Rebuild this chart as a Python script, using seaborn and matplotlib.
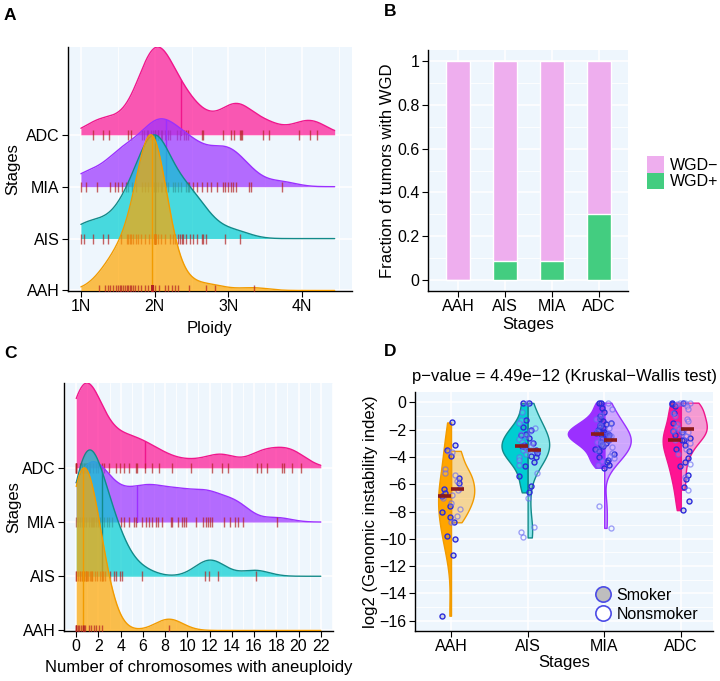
import numpy as np
import pandas as pd
import matplotlib
matplotlib.use("Agg")
import matplotlib.pyplot as plt
from matplotlib.ticker import MultipleLocator
from matplotlib.lines import Line2D
from matplotlib.patches import Patch
import seaborn as sns

stages = ["AAH", "AIS", "MIA", "ADC"]

# ---- A: ploidy per tumour (rug positions; stacked diploid ticks read as repeats)
ploidy_aah = [1.25, 1.32, 1.37, 1.40, 1.44, 1.48, 1.50, 1.53, 1.55, 1.57, 1.60,
              1.62, 1.64, 1.66, 1.68, 1.71, 1.73, 1.78, 1.82, 1.87, 1.91, 2.01,
              2.06, 2.14, 2.18, 2.23, 2.27, 2.32, 2.46, 2.69, 2.82, 3.34] + [1.96] * 48
ploidy_ais = [1.00, 1.04, 1.16, 1.30, 1.37, 1.55, 1.62, 1.64, 1.66, 1.68, 1.71,
              1.75, 1.78, 1.82, 1.87, 1.92, 1.96, 2.01, 2.05, 2.09, 2.14, 2.21,
              2.25, 2.28, 2.32, 2.34, 2.37, 2.39, 2.43, 2.48, 2.52, 2.57, 2.64,
              2.66, 2.70, 2.96, 3.15] + [2.0] * 12
ploidy_mia = [1.00, 1.07, 1.22, 1.39, 1.46, 1.50, 1.56, 1.61, 1.64, 1.69, 1.75,
              1.83, 1.87, 1.91, 1.96, 1.99, 2.0, 2.02, 2.05, 2.09, 2.1, 2.14,
              2.15, 2.18, 2.25, 2.28, 2.32, 2.36, 2.42, 2.45, 2.47, 2.52, 2.57,
              2.64, 2.71, 2.77, 2.84, 2.93, 2.95, 3.0, 3.04, 3.06, 3.10, 3.28,
              3.30, 3.72]
ploidy_adc = [1.16, 1.30, 1.38, 1.64, 1.68, 1.83, 1.86, 1.89, 1.91, 1.95, 1.98,
              2.00, 2.05, 2.09, 2.14, 2.18, 2.21, 2.40, 2.42, 2.64, 2.66, 2.93,
              3.04, 3.07, 3.15, 3.17, 3.19, 3.47, 3.55, 3.96, 4.11, 4.20,
              2.0, 2.0, 2.05, 2.05, 2.1, 2.3, 2.35, 2.45]
ploidy_range = (1.0, 4.44)
ploidy_median = [1.96, 2.0, 2.16, 2.36]   # quantile lines

# ---- B: fraction of tumours with WGD
wgd_pos = [0.0, 0.087, 0.087, 0.30]
wgd_neg = [1.0, 0.913, 0.913, 0.70]

# ---- C: number of chromosomes with aneuploidy
aneu_aah = [0, 0, 0, 0, 0.12, 0.27, 0.42, 0.57, 0.6, 0.72, 0.8, 1.17, 1.37,
            1.62, 1.82, 2.06, 2.31, 8.35]
aneu_ais = [0, 0.12, 0.33, 0.51, 0.72, 0.87, 0.9, 1.1, 1.32, 1.46, 1.71, 1.91,
            2.13, 2.31, 2.35, 2.45, 2.6, 3.0, 3.41, 3.56, 3.95, 4.1, 5.9,
            11.55, 11.94, 12.72, 16.13,
            0, 0.3, 0.5, 0.7, 0.9, 1.0, 1.2, 1.4]
aneu_mia = [0, 0.18, 0.51, 0.87, 1.17, 1.46, 1.62, 1.82, 2.13, 2.51, 2.96, 3.26,
            4.01, 4.31, 4.76, 5.21, 5.41, 5.9, 6.25, 6.55, 6.85, 7.15, 7.39,
            7.75, 8.5, 8.65, 9.18, 9.54, 9.7, 9.85, 10.74, 11.4, 11.64, 11.87,
            11.99, 12.18, 13.29, 13.8, 14.25, 14.57, 15.02, 18.1,
            0.3, 0.7, 1.3, 1.5, 2.0, 2.8]
aneu_adc = [0, 0, 0, 0, 0.3, 0.5, 0.5, 0.7, 0.72, 0.8, 0.9, 1.0, 1.0, 1.17, 1.2,
            1.5, 1.77, 2.0, 2.3, 2.51, 2.96, 3.56, 3.92, 4.31, 4.76, 5.41, 5.5,
            6.19, 6.85, 7.45, 8.59, 10.35, 12.18, 13.08, 13.67, 16.22, 16.6,
            17.2, 18.52, 18.67, 19.42, 20.2]
aneu_range = (0, 22)
aneu_median = [0.6, 2.35, 5.5, 6.15]

# ---- D: log2 genomic instability index, smoker / nonsmoker
gi_smoker = {
    "AAH": [-1.48, -3.14, -3.51, -3.95, -5.53, -5.94, -6.38, -6.67, -6.85, -7.6,
            -8.01, -8.42, -8.79, -9.79, -10.03, -11.17, -15.63],
    "AIS": [-0.05, -0.05, -1.3, -1.8, -2.0, -2.3, -2.4, -2.6, -3.0, -3.1, -3.2,
            -3.3, -3.5, -3.7, -3.9, -4.0, -4.4, -4.7, -5.4, -6.1, -6.6],
    "MIA": [-0.03, -0.03, -0.4, -0.7, -1.0, -1.2, -1.4, -1.5, -1.6, -1.7, -1.8,
            -1.9, -2.0, -2.1, -2.2, -2.25, -2.3, -2.35, -2.35, -2.4, -2.5, -2.6,
            -2.7, -2.8, -2.9, -3.0, -3.1, -3.2, -3.4, -3.6, -3.8, -4.0, -4.2,
            -4.4, -4.6, -4.8],
    "ADC": [-0.03, -0.03, -0.1, -0.3, -0.8, -1.5, -2.1, -2.2, -2.4, -2.6, -2.75,
            -2.8, -3.1, -3.4, -3.6, -4.1, -4.4, -4.7, -5.3, -5.6, -6.2, -7.2, -7.9],
}
gi_nonsmoker = {
    "AAH": [-3.56, -3.63, -4.92, -5.16, -5.33, -5.77, -6.31, -6.4, -6.79, -7.04,
            -7.4, -7.84, -8.3, -8.79],
    "AIS": [-0.05, -0.7, -1.3, -1.5, -1.9, -2.1, -2.3, -2.5, -2.7, -2.9, -3.0,
            -3.2, -3.5, -3.5, -3.5, -3.6, -3.8, -4.0, -4.2, -4.6, -5.2, -7.0,
            -9.1, -9.5, -9.9],
    "MIA": [-0.03, -0.5, -0.9, -1.2, -1.5, -1.7, -1.9, -2.1, -2.3, -2.5, -2.6,
            -2.7, -2.8, -2.9, -3.0, -3.1, -3.3, -3.5, -3.7, -3.9, -4.1, -4.3,
            -4.6, -7.6, -9.2],
    "ADC": [-0.03, -0.03, -0.05, -0.1, -0.3, -0.5, -0.8, -1.0, -1.2, -1.4, -1.6,
            -1.8, -1.95, -2.0, -2.1, -2.2, -2.3, -2.5, -2.8, -3.0, -3.4, -3.8,
            -4.5, -5.5, -6.4],
}
pvalue_text = "p\u2212value = 4.49e\u221212 (Kruskal\u2212Wallis test)"

# colours
stage_fill = {"AAH": "#FFA500", "AIS": "#00CED1", "MIA": "#9B30FF", "ADC": "#FF1493"}
stage_line = {"AAH": "#F29B00", "AIS": "#128A8A", "MIA": "#9B30FF", "ADC": "#F0168C"}
rug_color = "#B22222"
panel_bg = "#EEF6FD"
wgd_colors = {"neg": "#EEAEEE", "pos": "#43CD80"}

sns.set_theme(style="ticks")
plt.rcParams["font.family"] = ["Liberation Sans", "DejaVu Sans"]
plt.rcParams["text.color"] = "black"
plt.rcParams["axes.labelcolor"] = "black"

FS_TICK = 11.5
FS_LAB = 12


def kde(values, grid, bw):
    v = np.asarray(values, float)[:, None]
    z = (np.asarray(grid, float)[None, :] - v) / bw
    return np.exp(-0.5 * z ** 2).sum(0) / (len(v) * bw * np.sqrt(2 * np.pi))


def style_axes(ax):
    ax.set_facecolor(panel_bg)
    for s in ["top", "right"]:
        ax.spines[s].set_visible(False)
    for s in ["left", "bottom"]:
        ax.spines[s].set_color("black")
        ax.spines[s].set_linewidth(1.0)
    ax.tick_params(axis="both", which="major", length=4, width=0.8, color="black",
                   labelsize=FS_TICK, labelcolor="black", pad=2,
                   bottom=True, left=True)
    ax.tick_params(axis="both", which="minor", length=0)
    ax.grid(True, which="major", color="white", lw=1.1)
    ax.grid(True, which="minor", color="white", lw=0.6)
    ax.set_axisbelow(True)


def place_labels(ax, xlab, ylab, xl_y, yl_x):
    ax.set_xlabel(xlab, fontsize=FS_LAB)
    ax.set_ylabel(ylab, fontsize=FS_LAB)
    ax.xaxis.label.set_va("center")
    ax.yaxis.label.set_va("center")
    ax.xaxis.set_label_coords(0.5, xl_y)
    ax.yaxis.set_label_coords(yl_x, 0.5)


def ridges(ax, groups, medians, rng, bw):
    grid = np.linspace(rng[0], rng[1], 512)
    dens = [kde(g, grid, bw) for g in groups]
    k = 3.0 / max(d.max() for d in dens)
    top = 0
    for i in range(3, -1, -1):
        st = stages[i]
        h = dens[i] * k
        z = 2 + (3 - i) * 4
        ax.fill_between(grid, i, i + h, color=stage_fill[st], alpha=0.7, lw=0, zorder=z)
        ax.plot(grid, i + h, color=stage_line[st], lw=1.0, zorder=z + 1)
        med = medians[i]
        hm = kde(groups[i], [med], bw)[0] * k
        ax.plot([med, med], [i, i + hm], color=stage_line[st], lw=1.0, zorder=z + 1)
        ax.plot(groups[i], np.full(len(groups[i]), i), ls="", marker="|", ms=7,
                mew=1.0, color=rug_color, alpha=0.7, zorder=z + 2)
        top = max(top, i + h.max())
    ax.set_ylim(-0.01, top)
    ax.set_yticks(range(4))
    ax.set_yticklabels(stages)


fig = plt.figure(figsize=(7.2, 6.81), dpi=100)
W, H = 720, 681
axA = fig.add_axes([68 / W, 1 - 291 / H, 284 / W, 244 / H])
axB = fig.add_axes([428 / W, 1 - 291 / H, 200 / W, 241 / H])
axC = fig.add_axes([64 / W, 1 - 631 / H, 269 / W, 248 / H])
axD = fig.add_axes([415 / W, 1 - 631 / H, 298 / W, 239 / H])

# ---------------- A
ridges(axA, [ploidy_aah, ploidy_ais, ploidy_mia, ploidy_adc], ploidy_median,
       ploidy_range, 0.2)
style_axes(axA)
axA.set_xlim(0.825, 4.675)
axA.set_xticks([1, 2, 3, 4])
axA.set_xticklabels(["1N", "2N", "3N", "4N"])
axA.xaxis.set_minor_locator(MultipleLocator(0.5))
place_labels(axA, "Ploidy", "Stages", -0.152, -0.194)

# ---------------- B
wgd = pd.DataFrame({"stage": stages, "pos": wgd_pos, "neg": wgd_neg})
wgd["total"] = wgd["pos"] + wgd["neg"]
sns.barplot(data=wgd, x="stage", y="total", order=stages, color=wgd_colors["neg"],
            saturation=1, width=0.5, ax=axB)
sns.barplot(data=wgd, x="stage", y="pos", order=stages, color=wgd_colors["pos"],
            saturation=1, width=0.5, ax=axB)
style_axes(axB)
axB.set_xlim(-0.64, 3.62)
axB.set_ylim(-0.05, 1.05)
axB.set_yticks([0, 0.2, 0.4, 0.6, 0.8, 1])
axB.set_yticklabels(["0", "0.2", "0.4", "0.6", "0.8", "1"])
axB.yaxis.set_minor_locator(MultipleLocator(0.1))
place_labels(axB, "Stages", "Fraction of tumors with WGD", -0.1375, -0.2)
axB.legend(handles=[Patch(facecolor=wgd_colors["neg"], edgecolor="none"),
                    Patch(facecolor=wgd_colors["pos"], edgecolor="none")],
           labels=["WGD\u2212", "WGD+"], loc="center left",
           bbox_to_anchor=(1.095, 0.49), borderaxespad=0, borderpad=0,
           frameon=False, handlelength=1.05, handleheight=1.2, labelspacing=0,
           handletextpad=0.4, fontsize=FS_TICK)

# ---------------- C
ridges(axC, [aneu_aah, aneu_ais, aneu_mia, aneu_adc], aneu_median, aneu_range, 1.25)
style_axes(axC)
axC.set_xlim(-1.1, 23.1)
axC.set_xticks(range(0, 23, 2))
axC.xaxis.set_minor_locator(MultipleLocator(1))
place_labels(axC, "Number of chromosomes with aneuploidy", "Stages", -0.149, -0.186)

# ---------------- D
rows = []
for st in stages:
    rows += [(st, "Smoker", v) for v in gi_smoker[st]]
    rows += [(st, "Nonsmoker", v) for v in gi_nonsmoker[st]]
gi = pd.DataFrame(rows, columns=["stage", "smoking", "gi"])

n0 = len(axD.collections)
sns.violinplot(data=gi, x="stage", y="gi", hue="smoking", order=stages,
               hue_order=["Smoker", "Nonsmoker"], split=True, inner=None, cut=0,
               density_norm="area", common_norm=True, bw_adjust=0.85, width=0.95,
               linewidth=1.0, legend=False, ax=axD)
for coll in axD.collections[n0:]:
    verts = np.concatenate([p.vertices for p in coll.get_paths()])
    xm = verts[:, 0].mean()
    k = int(round(xm))
    st = stages[k]
    rgb = matplotlib.colors.to_rgb(stage_fill[st])
    if xm < k:
        coll.set_facecolor(rgb)
    else:
        coll.set_facecolor(rgb + (0.4,))
    coll.set_edgecolor(stage_line[st])
    coll.set_linewidth(1.0)

np.random.seed(3)
sns.stripplot(data=gi[gi.smoking == "Smoker"], x="stage", y="gi", order=stages,
              color=(0.45, 0.45, 0.6, 0.25), edgecolor="#2B2BDB", linewidth=1.0,
              size=3.6, jitter=0.13, ax=axD)
sns.stripplot(data=gi[gi.smoking == "Nonsmoker"], x="stage", y="gi", order=stages,
              color=(1, 1, 1, 0.15), edgecolor=(0.4, 0.4, 0.95, 0.6), linewidth=1.0,
              size=3.6, jitter=0.13, ax=axD)

med = gi.groupby(["stage", "smoking"])["gi"].median()
for k, st in enumerate(stages):
    axD.hlines(med[(st, "Smoker")], k - 0.17, k, color="#8B1A1A", lw=2.6, zorder=6)
    axD.hlines(med[(st, "Nonsmoker")], k, k + 0.17, color="#8B1A1A", lw=2.6, zorder=6)

style_axes(axD)
axD.set_xlim(-0.47, 3.42)
axD.set_ylim(-16.75, 0.75)
axD.set_yticks(range(0, -17, -2))
axD.yaxis.set_minor_locator(MultipleLocator(1))
place_labels(axD, "Stages", "log2 (Genomic instability index)", -0.13, -0.151)
axD.set_title(pvalue_text, fontsize=FS_LAB, pad=8)
axD.legend(handles=[Line2D([], [], ls="", marker="o", ms=11, mfc="#BEBEBE",
                           mec="#4B4BE6", mew=1.2),
                    Line2D([], [], ls="", marker="o", ms=11, mfc="white",
                           mec="#4B4BE6", mew=1.2)],
           labels=["Smoker", "Nonsmoker"], loc="center left",
           bbox_to_anchor=((595 - 415) / 298, (631 - 605) / 239),
           borderaxespad=0, borderpad=0, frameon=False, handlelength=1.0,
           handletextpad=0.35, labelspacing=0.25, fontsize=FS_TICK)

# panel letters
for letter, x, y in [("A", 4, 15), ("B", 384, 12), ("C", 4, 353), ("D", 384, 352)]:
    fig.text(x / W, 1 - y / H, letter, fontsize=12.5, fontweight="bold",
             va="center", ha="left")

fig.savefig("out.png", dpi=100)
